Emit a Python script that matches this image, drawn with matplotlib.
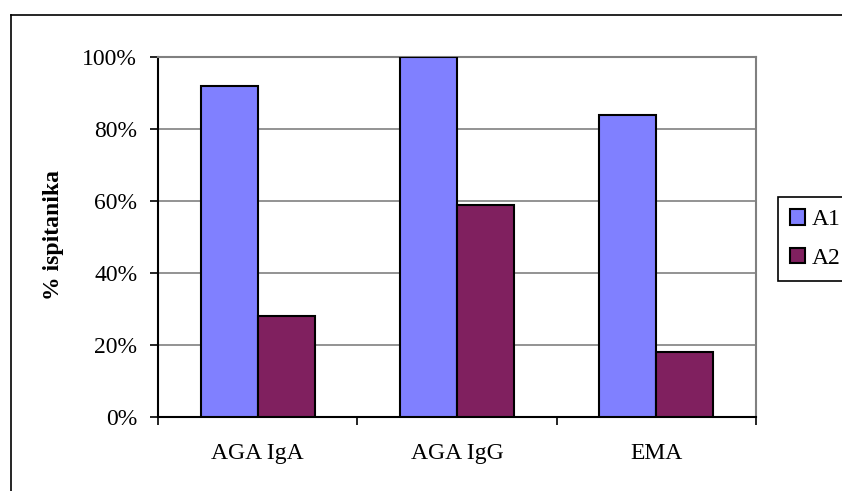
import numpy as np
import matplotlib
matplotlib.use('Agg')
import matplotlib.pyplot as plt
from matplotlib.patches import Patch
from matplotlib.ticker import FixedLocator, PercentFormatter

# data
categories = ['AGA IgA', 'AGA IgG', 'EMA']
series_names = ['A1', 'A2']
a1 = [0.92, 1.00, 0.84]
a2 = [0.28, 0.59, 0.18]
colors = ['#8080ff', '#80205f']

W, H = 842, 491
plt.rcParams['font.family'] = 'Liberation Serif'
plt.rcParams['font.size'] = 17

fig = plt.figure(figsize=(W/100, H/100), dpi=100)

# outer chart border (left and top visible)
fig.add_artist(plt.Line2D([11/W, 11/W], [0, 1-15/H], color='black', lw=1.2))
fig.add_artist(plt.Line2D([11/W, 1], [1-15/H, 1-15/H], color='black', lw=1.2))

ax = fig.add_axes([158/W, 1-417/H, (756-158)/W, (417-57)/H])

x = np.arange(len(categories))
w = 1/3.5
ax.bar(x - w/2, a1, w, color=colors[0], edgecolor='black', lw=1.5, zorder=3)
ax.bar(x + w/2, a2, w, color=colors[1], edgecolor='black', lw=1.5, zorder=3)

ax.set_xlim(-0.5, 2.5)
ax.set_ylim(0, 1)
ax.set_yticks(np.arange(0, 1.01, 0.2))
ax.yaxis.set_major_formatter(PercentFormatter(1.0, decimals=0))
ax.yaxis.grid(True, color='#808080', lw=1.2, zorder=0)

ax.set_xticks(x)
ax.set_xticklabels(categories)
ax.xaxis.set_minor_locator(FixedLocator([-0.5, 0.5, 1.5, 2.5]))
ax.tick_params(axis='x', which='major', length=0, pad=19)
ax.tick_params(axis='x', which='minor', length=6, width=1.2, direction='out')
ax.tick_params(axis='y', length=6, width=1.2, direction='out', pad=9)

for s in ['top', 'right']:
    ax.spines[s].set_color('#808080')
    ax.spines[s].set_linewidth(1.5)
for s in ['left', 'bottom']:
    ax.spines[s].set_color('black')
    ax.spines[s].set_linewidth(1.5)

fig.text(54/W, 1-235/H, '% ispitanika', rotation=90, ha='center', va='center',
         fontweight='bold', fontsize=17)

handles = [Patch(facecolor=c, edgecolor='black', lw=1.5) for c in colors]
leg = fig.legend(handles, series_names, loc='upper left',
                 bbox_to_anchor=(778/W, 1-197/H), fancybox=False, frameon=True,
                 edgecolor='black', framealpha=1, handlelength=0.65,
                 handleheight=0.65, handletextpad=0.3, borderpad=0.5,
                 labelspacing=0.75, borderaxespad=0)
leg.get_frame().set_linewidth(1.2)

fig.savefig('out.png', dpi=100)
